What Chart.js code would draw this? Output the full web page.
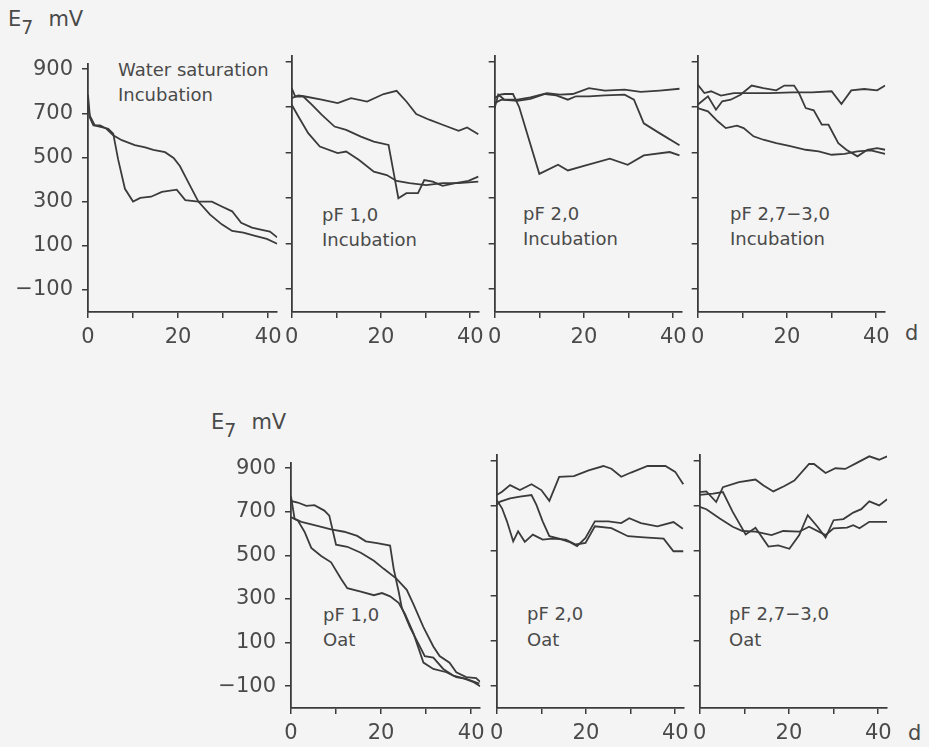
<!DOCTYPE html>
<html>
<head>
<meta charset="utf-8">
<script src="https://cdn.jsdelivr.net/npm/chart.js@4.4.1/dist/chart.umd.min.js"></script>
<style>
  body { margin: 0; background: #f4f4f4; }
  #fig { position: relative; width: 929px; height: 747px; overflow: hidden;
         font-family: "DejaVu Sans", sans-serif; color: #4a4a4a; }
  #fig canvas { position: absolute; }
  .t { position: absolute; line-height: 1; font-size: 18px; white-space: nowrap; }
  .ax { position: absolute; line-height: 1; font-size: 21px; white-space: nowrap; }
</style>
</head>
<body>
<div id="fig">
  <div class="ax" style="left:8px;top:9px">E<span style="position:relative;top:8px;font-size:19px">7</span><span style="margin-left:15px">mV</span></div>
  <div class="ax" style="left:211px;top:412px">E<span style="position:relative;top:8px;font-size:19px">7</span><span style="margin-left:15px">mV</span></div>
  <div class="ax" style="left:905px;top:323px">d</div>
  <div class="ax" style="left:908px;top:723px">d</div>

  <div class="t" style="left:118px;top:61px">Water saturation</div>
  <div class="t" style="left:118px;top:86px">Incubation</div>
  <div class="t" style="left:322px;top:206px">pF 1,0</div>
  <div class="t" style="left:322px;top:231px">Incubation</div>
  <div class="t" style="left:523px;top:205px">pF 2,0</div>
  <div class="t" style="left:523px;top:230px">Incubation</div>
  <div class="t" style="left:730px;top:205px">pF 2,7−3,0</div>
  <div class="t" style="left:730px;top:230px">Incubation</div>

  <div class="t" style="left:323px;top:606px">pF 1,0</div>
  <div class="t" style="left:323px;top:631px">Oat</div>
  <div class="t" style="left:527px;top:605px">pF 2,0</div>
  <div class="t" style="left:527px;top:631px">Oat</div>
  <div class="t" style="left:729px;top:605px">pF 2,7−3,0</div>
  <div class="t" style="left:729px;top:631px">Oat</div>
</div>
<script>
// axis ticks
const yTicks = [-100, 100, 300, 500, 700, 900];
const xTicks = [0, 10, 20, 30, 40];
const xLabelled = [0, 20, 40];

// [day, mV] - water saturation, incubation
const wsA = [[0,784],[0.4,689],[1.5,645],[3,637],[4.5,630],[5.6,608],[6.7,490],[8.2,358],[10,300],[11.6,317],[14,322],[16.4,344],[19.7,354],[21.6,307],[24.5,300],[27.5,300],[29.7,278],[32,256],[34,204],[36.4,182],[38.6,172],[40.4,164],[42,138]];
const wsB = [[0,740],[0.4,681],[1.2,645],[2.7,645],[4.1,630],[5.6,600],[7.5,578],[10.4,556],[12.7,546],[14.5,534],[17.1,524],[19,498],[20.4,461],[21.9,402],[24.5,300],[27.1,241],[29.7,197],[32,167],[34.5,160],[37.1,145],[39.7,131],[42,109]];

// pF 1,0 incubation
const inc10A = [[0,740],[1.5,752],[3,747],[6.7,733],[10.3,718],[13.3,740],[16.9,725],[20.6,758],[23.5,772],[25.7,725],[27.9,670],[30.8,645],[33.8,623],[37.4,596],[39.3,611],[41.8,581]];
const inc10B = [[0,784],[0.8,747],[2.6,747],[4.5,711],[6.7,667],[9.6,615],[12.2,600],[15.5,571],[18.4,549],[21.7,534],[22.8,417],[23.9,300],[25.7,322],[28.3,322],[29.7,380],[31.6,373],[33.8,354],[36.7,366],[39.6,376],[41.8,395]];
const inc10C = [[0,711],[1.5,659],[3.7,586],[6.3,527],[10.3,498],[12.2,505],[15.1,468],[18.4,417],[21.3,402],[23.5,376],[26.4,366],[30.1,358],[33.8,366],[37.4,366],[41.8,373]];

// pF 2,0 incubation
const inc20A = [[0,696],[0.8,755],[2.2,733],[5.1,733],[8,743],[11.7,762],[14.6,755],[17.5,758],[21.1,784],[24.7,773],[29.1,777],[32.7,767],[37,773],[41.4,781]];
const inc20B = [[0,718],[1.5,733],[5.1,728],[8,737],[11.3,758],[13.8,752],[16.4,733],[18.2,748],[21.1,748],[24.7,752],[29.1,755],[31.2,733],[33.4,629],[37,585],[41.4,533]];
const inc20C = [[0,740],[1.2,755],[2.2,758],[4.1,758],[5.5,700],[10,407],[14.2,447],[16.4,422],[20.4,444],[25.8,474],[29.8,447],[33.4,488],[39.2,503],[41.4,488]];

// pF 2,7-3,0 incubation
const inc27A = [[0,799],[1.5,762],[3,770],[5.2,751],[8.1,762],[11.8,762],[16.1,762],[21.2,765],[25.6,765],[30,770],[32.2,714],[34.4,774],[37.3,780],[40.2,774],[42,795]];
const inc27B = [[0,711],[2.3,748],[4.1,689],[5.5,726],[7.4,733],[9.6,755],[12.1,795],[14.7,784],[17.6,774],[19.4,795],[21.6,795],[22.7,762],[24.2,696],[26,686],[27.8,623],[29.3,623],[31.5,542],[33.3,513],[35.8,484],[38,513],[40.2,520],[42,513]];
const inc27C = [[0,696],[2.3,682],[4.5,638],[6.3,608],[8.8,619],[10.3,608],[12.5,572],[14.7,557],[17.6,542],[20.5,530],[24.2,513],[27.1,506],[30,491],[32.9,495],[35.8,506],[38.8,510],[42,495]];

// pF 1,0 oat
const oat10A = [[0,749],[1.5,742],[3.4,727],[5.2,730],[7.4,705],[8.5,682],[10,549],[12.5,539],[15.5,512],[18.4,475],[20.6,438],[23.4,393],[25.7,342],[27.2,275],[29.4,171],[31.6,82],[33,38],[35.2,8],[36.7,-36],[38.9,-58],[41.1,-63],[42,-80]];
const oat10B = [[0,770],[0.8,667],[2.3,653],[5.2,638],[8.9,619],[11.8,608],[14.7,589],[16.6,564],[19.1,556],[22,545],[22.8,438],[23.9,334],[24.6,260],[26.4,171],[28.6,82],[29.7,38],[31.6,31],[33.8,-21],[36,-51],[38.2,-63],[40.4,-80],[42,-100]];
const oat10C = [[0,675],[1.5,660],[3,608],[4.5,534],[6.7,497],[8.9,468],[11.1,393],[12.5,349],[15.5,334],[18.4,317],[20.2,327],[22,312],[23.9,282],[25.3,231],[27.2,142],[29.4,8],[31.6,-21],[34.5,-36],[36.7,-58],[38.9,-66],[41.8,-88]];

// pF 2,0 oat
const oat20A = [[0,747],[1.2,762],[3,791],[5.2,769],[7.8,795],[10,769],[11.8,721],[14,828],[17.3,831],[20.6,857],[23.9,876],[25.7,864],[27.9,828],[30.1,847],[33.8,876],[37.8,876],[40,850],[41.8,795]];
const oat20B = [[0,703],[0.8,718],[3,732],[5.2,740],[7.8,747],[8.9,703],[10.3,630],[11.8,564],[14,553],[16.2,539],[18,520],[19.9,556],[22,630],[25,630],[27.9,622],[29.7,644],[32.3,622],[36,608],[39.6,627],[41.7,597]];
const oat20C = [[0,725],[1.2,688],[2.3,630],[3.7,541],[4.8,586],[6.3,539],[8.1,571],[10.3,549],[12.5,553],[15.5,549],[17.7,527],[19.9,534],[22,608],[25.7,600],[29.4,564],[33,559],[37.4,553],[39.6,497],[41.8,497]];

// pF 2,7-3,0 oat
const oat27A = [[0,760],[1.5,763],[3.7,716],[5.2,782],[8.8,804],[12.5,816],[14.3,789],[16.5,763],[19,787],[21.2,811],[24.5,885],[25.6,885],[28.2,845],[30.4,866],[32.6,863],[35.1,889],[38,919],[40.2,904],[42,919]];
const oat27B = [[0,748],[3,753],[5.2,760],[7.4,672],[10.3,572],[12.5,602],[15.4,518],[17.6,523],[20.1,508],[22.3,569],[24.2,657],[26.4,606],[28.2,558],[30,635],[32.2,640],[34.4,669],[36.2,684],[38,719],[40.2,701],[42,728]];
const oat27C = [[0,694],[1.5,684],[4.5,643],[7.4,606],[9.6,587],[12.5,584],[16.1,569],[18.7,587],[22.3,584],[24.5,606],[28.2,569],[30,599],[33,602],[34.4,613],[35.8,599],[38,628],[42,628]];

// where each small plot sits on the page
const panels = [
  { series: [wsA, wsB],               axisX: 88,  top: 56,  h: 256, labels: true },
  { series: [inc10A, inc10B, inc10C], axisX: 290, top: 56,  h: 256, labels: false },
  { series: [inc20A, inc20B, inc20C], axisX: 493, top: 56,  h: 256, labels: false },
  { series: [inc27A, inc27B, inc27C], axisX: 696, top: 56,  h: 256, labels: false },
  { series: [oat10A, oat10B, oat10C], axisX: 291, top: 455, h: 253, labels: true },
  { series: [oat20A, oat20B, oat20C], axisX: 495, top: 455, h: 253, labels: false },
  { series: [oat27A, oat27B, oat27C], axisX: 698, top: 455, h: 253, labels: false }
];

const ink = '#3b3b3b';
const textInk = '#4a4a4a';
const tickFont = { family: 'DejaVu Sans', size: 21 };

function makePanel(p) {
  const yW = p.labels ? 80 : 12;
  const padT = 14, padR = 10, xH = 40, w = 191;
  const cv = document.createElement('canvas');
  cv.width = yW + w + padR;
  cv.height = padT + p.h + xH;
  cv.style.left = (p.axisX - yW) + 'px';
  cv.style.top = (p.top - padT) + 'px';
  document.getElementById('fig').appendChild(cv);

  new Chart(cv, {
    type: 'line',
    data: {
      datasets: p.series.map(s => ({
        data: s.map(([x, y]) => ({ x, y })),
        borderColor: ink,
        borderWidth: 1.8,
        pointRadius: 0,
        tension: 0,
        fill: false
      }))
    },
    options: {
      responsive: false,
      animation: false,
      layout: { padding: { top: padT, right: padR, left: 0, bottom: 0 } },
      plugins: { legend: { display: false }, tooltip: { enabled: false } },
      scales: {
        x: {
          type: 'linear', min: 0, max: 42,
          afterBuildTicks: s => { s.ticks = xTicks.map(v => ({ value: v })); },
          afterFit: s => { s.height = xH; },
          grid: { drawOnChartArea: false, color: ink, lineWidth: 1.5, tickLength: 6 },
          border: { color: ink, width: 1.8 },
          ticks: {
            color: textInk, font: tickFont, padding: 7, maxRotation: 0, autoSkip: false,
            callback: v => xLabelled.includes(v) ? String(v) : ''
          }
        },
        y: {
          min: -200, max: 925,
          afterBuildTicks: s => { s.ticks = yTicks.map(v => ({ value: v })); },
          afterFit: s => { s.width = yW; },
          grid: { drawOnChartArea: false, color: ink, lineWidth: 1.5, tickLength: 6 },
          border: { color: ink, width: 1.8 },
          ticks: {
            display: p.labels, color: textInk, font: tickFont, padding: 9,
            callback: v => v < 0 ? '\u2212' + Math.abs(v) : String(v)
          }
        }
      }
    }
  });
}

panels.forEach(makePanel);
</script>
</body>
</html>
